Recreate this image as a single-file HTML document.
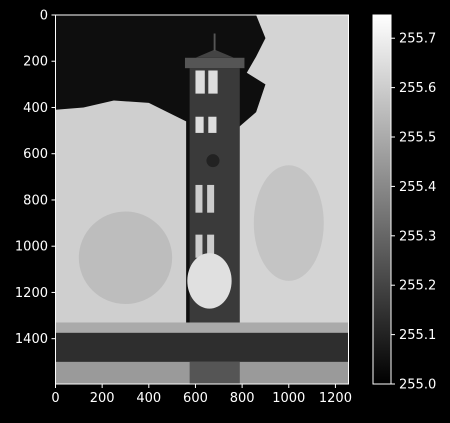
<!DOCTYPE html>
<html><head><meta charset="utf-8"><style>
html,body{margin:0;padding:0;background:#000;}
svg text{font-family:"DejaVu Sans","Liberation Sans",sans-serif;font-size:13px;fill:#fff;}
</style></head><body>
<svg id="chart" width="450" height="418" xmlns="http://www.w3.org/2000/svg">
<rect width="450" height="418" fill="#000"/>
<svg x="55.5" y="15" width="293" height="369" viewBox="0 0 1256 1596" preserveAspectRatio="none">
  <rect width="1256" height="1596" fill="#0e0e0e"/>
  <path d="M0 410 L120 400 L250 370 L400 380 L560 460 L560 1330 L0 1330 Z" fill="#cfcfcf"/>
  <path d="M860 0 L1256 0 L1256 1330 L780 1330 L780 490 L860 420 L900 300 L820 250 L860 180 L900 100 Z" fill="#d4d4d4"/>
  <ellipse cx="300" cy="1050" rx="200" ry="200" fill="#bdbdbd"/>
  <ellipse cx="1000" cy="900" rx="150" ry="250" fill="#c4c4c4"/>
  <rect x="575" y="230" width="215" height="1100" fill="#3a3a3a"/>
  <rect x="555" y="185" width="255" height="45" fill="#555"/>
  <polygon points="600,185 765,185 682,150" fill="#444"/>
  <rect x="678" y="80" width="8" height="75" fill="#555"/>
  <rect x="600" y="240" width="40" height="100" fill="#ddd"/><rect x="655" y="240" width="40" height="100" fill="#ddd"/>
  <rect x="600" y="440" width="35" height="70" fill="#ddd"/><rect x="655" y="440" width="35" height="70" fill="#ddd"/>
  <circle cx="675" cy="630" r="28" fill="#222"/>
  <rect x="600" y="735" width="30" height="120" fill="#ccc"/><rect x="650" y="735" width="30" height="120" fill="#ccc"/>
  <rect x="600" y="950" width="30" height="100" fill="#ccc"/><rect x="650" y="950" width="30" height="100" fill="#ccc"/>
  <ellipse cx="660" cy="1150" rx="95" ry="120" fill="#e0e0e0"/>
  <rect x="0" y="1330" width="1256" height="45" fill="#aaa"/>
  <rect x="0" y="1375" width="1256" height="125" fill="#2e2e2e"/>
  <rect x="0" y="1500" width="1256" height="96" fill="#9a9a9a"/>
  <rect x="575" y="1500" width="215" height="96" fill="#555"/>
</svg>
<rect x="55.5" y="15" width="293" height="369" fill="none" stroke="#fff" stroke-width="1"/>
<g id="xaxis"></g>
<g id="yaxis"></g>
<defs><linearGradient id="cb" x1="0" y1="1" x2="0" y2="0"><stop offset="0" stop-color="#000"/><stop offset="1" stop-color="#fff"/></linearGradient></defs>
<rect x="373" y="15" width="18" height="369" fill="url(#cb)" stroke="#fff" stroke-width="1"/>
<g id="cbaxis"></g>
</svg>
<script>
const xTicks=[0,200,400,600,800,1000,1200];
const yTicks=[0,200,400,600,800,1000,1200,1400];
const cbTicks=[255.0,255.1,255.2,255.3,255.4,255.5,255.6,255.7];
const imgW=1256, imgH=1596, cbMin=255.0, cbMax=255.747;
const NS="http://www.w3.org/2000/svg";
function xs(v){return 55.5+v/imgW*293;}
function ys(v){return 15+v/imgH*369;}
function cs(v){return 384-(v-cbMin)/(cbMax-cbMin)*369;}
function mk(t,a,p){const e=document.createElementNS(NS,t);for(const k in a)e.setAttribute(k,a[k]);p.appendChild(e);return e;}
const xa=document.getElementById('xaxis'),ya=document.getElementById('yaxis'),ca=document.getElementById('cbaxis');
xTicks.forEach(v=>{const x=xs(v);
 const l=mk('line',{x1:x,x2:x,y1:384,y2:388,stroke:'#fff'},xa);
 
 
 const t=mk('text',{x:x,y:402,'text-anchor':'middle'},xa);t.textContent=v;
 
 });
yTicks.forEach(v=>{const y=ys(v);
 const l=mk('line',{x1:51.5,x2:55.5,y1:y,y2:y,stroke:'#fff'},ya);
 
 
 const t=mk('text',{x:48,y:y+4.5,'text-anchor':'end'},ya);t.textContent=v;
 
 });
cbTicks.forEach(v=>{const y=cs(v);
 const l=mk('line',{x1:391,x2:395,y1:y,y2:y,stroke:'#fff'},ca);
 
 
 const t=mk('text',{x:399,y:y+4.5},ca);t.textContent=v.toFixed(1);
 
 });
</script>
</body></html>
